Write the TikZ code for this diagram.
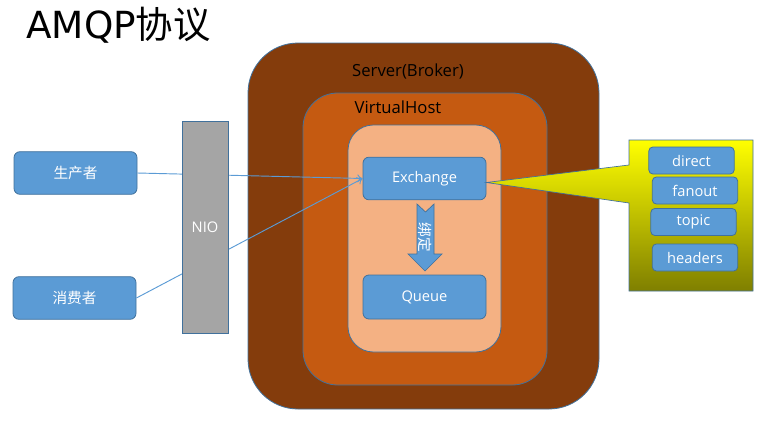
\documentclass[tikz,border=0pt]{standalone}
\usepackage{fontspec}
\setmainfont{Open Sans}
\newfontfamily\cjk{Noto Sans CJK SC}
\newfontfamily\titlefont{DejaVu Sans}
\usetikzlibrary{arrows.meta}
\definecolor{boxblue}{HTML}{5B9BD5}
\definecolor{edgeblue}{HTML}{41719C}
\definecolor{serverbrown}{HTML}{843C0C}
\definecolor{hostorange}{HTML}{C55A11}
\definecolor{innerpeach}{HTML}{F4B183}
\definecolor{niogray}{HTML}{A5A5A5}
\definecolor{calloutyellow}{HTML}{FFFF00}
\definecolor{calloutmid}{HTML}{E6E60A}
\definecolor{calloutolive}{HTML}{7F7F00}
\tikzset{
  layer/.style={draw=edgeblue, line width=0.6pt, inner sep=0pt},
  bluebox/.style={draw=edgeblue, fill=boxblue, line width=0.6pt, rounded corners=4.5pt,
    text=white, font=\fontsize{11}{13}\selectfont, inner sep=0pt,
    minimum width=92.25pt, minimum height=32pt},
  typebox/.style={bluebox, rounded corners=3pt, minimum width=64pt, minimum height=20.25pt},
  link/.style={draw=boxblue, line width=0.7pt, -{To[length=4pt,width=6pt]}},
}
\begin{document}
\begin{tikzpicture}[x=0.75pt, y=-0.75pt]
  \useasboundingbox (0,0) rectangle (777,432);
  % Title
  \node[anchor=base west, inner sep=0pt, font=\titlefont\fontsize{28}{32}\selectfont] (title) at (26,38) {AMQP{\cjk 协议}};
  % Server layers
  \node[layer, fill=serverbrown, rounded corners=37.5pt, minimum width=263.25pt, minimum height=274.5pt] (server) at (423.5,226) {};
  \node[font=\fontsize{12.5}{14}\selectfont] (serverlabel) at (408,71) {Server(Broker)};
  \node[layer, fill=hostorange, rounded corners=26pt, minimum width=183pt, minimum height=219pt] (vhost) at (425,239) {};
  \node[font=\fontsize{12.5}{14}\selectfont] (vhostlabel) at (398,107) {VirtualHost};
  \node[layer, fill=innerpeach, rounded corners=19pt, minimum width=114.75pt, minimum height=170.25pt] (inner) at (424.5,238.5) {};
  % Clients and exchange
  \node[bluebox] (producer) at (75.5,173) {\cjk 生产者};
  \node[bluebox] (consumer) at (74.5,298) {\cjk 消费者};
  \node[bluebox] (exchange) at (424.5,178.5) {Exchange};
  \node[bluebox, minimum height=33pt] (queue) at (424.5,297) {Queue};
  % Links
  \draw[link] (producer.east) -- (exchange.west);
  \draw[link] (consumer.east) -- (exchange.west);
  \node[layer, fill=niogray, minimum width=34.5pt, minimum height=159pt, text=white, font=\fontsize{11}{13}\selectfont] (nio) at (205,227) {NIO};
  % Binding arrow
  \draw[draw=edgeblue, fill=boxblue, line width=0.5pt]
    (417,204) -- (425.5,212) -- (434,204) -- (434,254) -- (442,254)
    -- (425,271) -- (408,254) -- (417,254) -- cycle;
  \node[rotate=-90, text=white, font=\cjk\fontsize{11}{12}\selectfont] (bindlabel) at (425.5,237) {绑定};
  % Exchange types callout
  \coordinate (tip) at ([yshift=-3pt]exchange.east);
  \draw[draw=edgeblue, line width=0.5pt, top color=calloutyellow, middle color=calloutmid, bottom color=calloutolive]
    (629,140) -- (753,140) -- (753,291) -- (629,291) -- (629,203) -- (tip) -- (629,165) -- cycle;
  \node[typebox] (direct) at (691.5,160.5) {direct};
  \node[typebox] (fanout) at (695,190.5) {fanout};
  \node[typebox] (topic) at (693.5,222) {topic};
  \node[typebox] (headers) at (695,257.5) {headers};
\end{tikzpicture}
\end{document}
